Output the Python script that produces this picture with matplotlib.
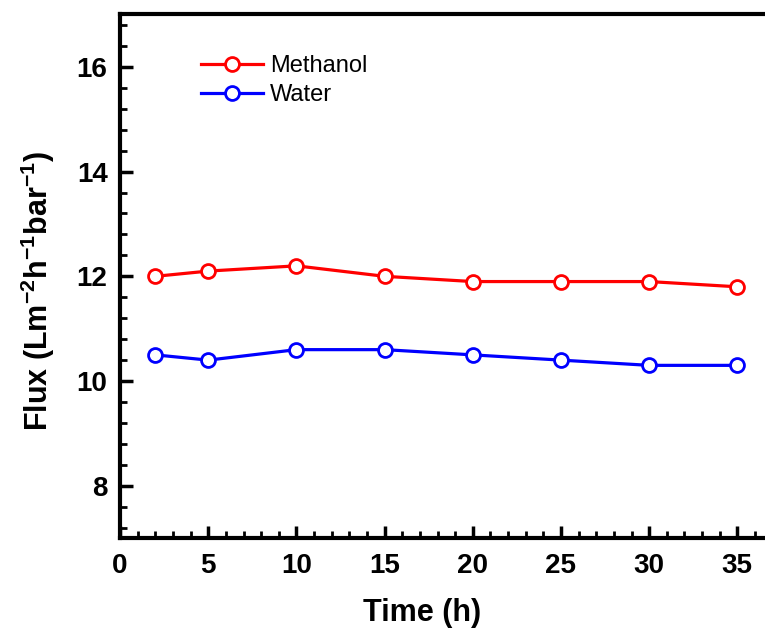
import matplotlib
matplotlib.use("Agg")
import matplotlib.pyplot as plt
from matplotlib.ticker import MultipleLocator

plt.rcParams['font.family'] = ['Liberation Sans', 'DejaVu Sans']
plt.rcParams['mathtext.fontset'] = 'custom'
plt.rcParams['mathtext.rm'] = 'Liberation Sans:bold'
plt.rcParams['mathtext.default'] = 'rm'

time_h = [2, 5, 10, 15, 20, 25, 30, 35]
methanol = [12.0, 12.1, 12.2, 12.0, 11.9, 11.9, 11.9, 11.8]
water = [10.5, 10.4, 10.6, 10.6, 10.5, 10.4, 10.3, 10.3]

fig = plt.figure(figsize=(7.65, 6.28), dpi=100)
ax = fig.add_axes([0.157, 0.143, 0.876, 0.834])

ax.plot(time_h, methanol, color="red", lw=2.3, marker="o", ms=10,
        mfc="white", mec="red", mew=2, label="Methanol")
ax.plot(time_h, water, color="blue", lw=2.3, marker="o", ms=10,
        mfc="white", mec="blue", mew=2, label="Water")

ax.set_xlim(0, 38)
ax.set_ylim(7, 17)
ax.set_xticks(range(0, 40, 5))
ax.set_yticks([8, 10, 12, 14, 16])
ax.xaxis.set_minor_locator(MultipleLocator(1))
ax.yaxis.set_minor_locator(MultipleLocator(0.4))
ax.tick_params(which="major", direction="in", length=9, width=2.5, labelsize=20)
ax.tick_params(which="minor", direction="in", length=5, width=2)
ax.tick_params(axis="x", pad=11)
ax.tick_params(axis="y", pad=9)
for lab in ax.get_xticklabels() + ax.get_yticklabels():
    lab.set_fontweight("bold")
for s in ax.spines.values():
    s.set_linewidth(3)

ax.set_xlabel("Time (h)", fontsize=22, fontweight="bold")
ax.xaxis.set_label_coords(0.45, -0.115)
ax.set_ylabel(r"Flux (Lm$^{-2}$h$^{-1}$bar$^{-1}$)", fontsize=22, fontweight="bold")
ax.yaxis.set_label_coords(-0.094, 0.473)

ax.legend(loc="upper left", bbox_to_anchor=(0.107, 0.94), frameon=False, fontsize=17,
          handlelength=2.6, handletextpad=0.3, labelspacing=0.28, borderaxespad=0)

fig.savefig("out.png", dpi=100)
